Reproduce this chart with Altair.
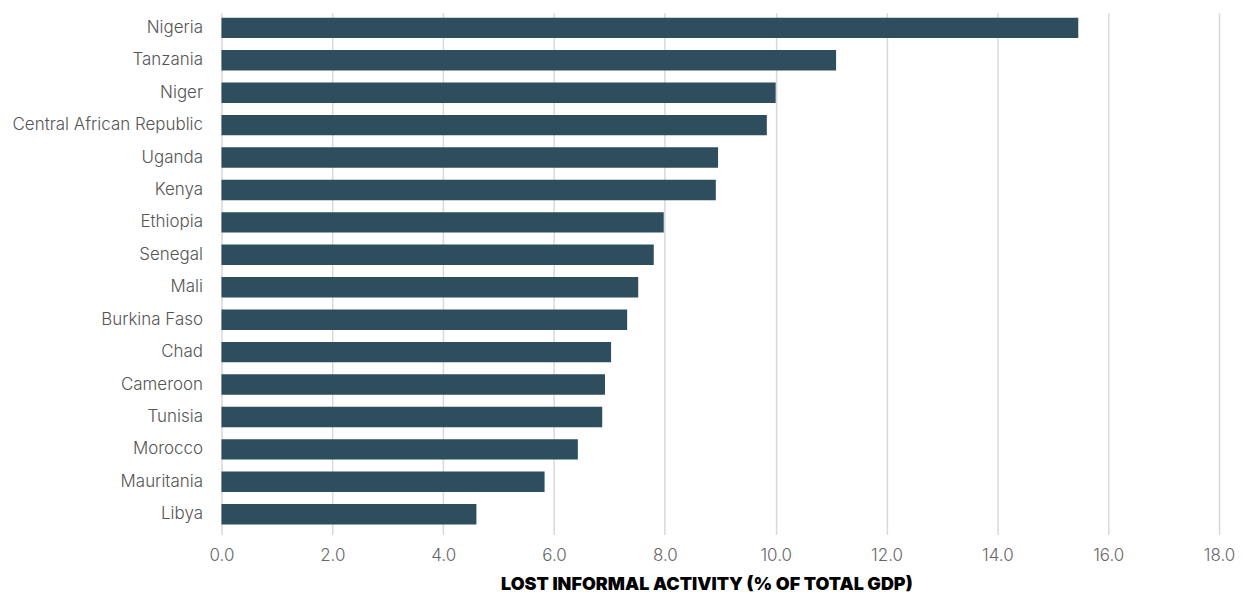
import altair as alt
import pandas as pd

countries = ["Nigeria", "Tanzania", "Niger", "Central African Republic", "Uganda", "Kenya",
             "Ethiopia", "Senegal", "Mali", "Burkina Faso", "Chad", "Cameroon", "Tunisia",
             "Morocco", "Mauritania", "Libya"]
values = [15.46, 11.09, 10.0, 9.84, 8.96, 8.92, 7.98, 7.8, 7.52, 7.32, 7.03, 6.92, 6.87,
          6.43, 5.83, 4.6]
x_ticks = [0, 2, 4, 6, 8, 10, 12, 14, 16, 18]

df = pd.DataFrame({"country": countries, "value": values})

chart = alt.Chart(df).mark_bar(color="#2f4e5d").encode(
    x=alt.X("value:Q",
            scale=alt.Scale(domain=[0, 18], nice=False),
            axis=alt.Axis(values=x_ticks, format=".1f",
                          title="LOST INFORMAL ACTIVITY (% OF TOTAL GDP)",
                          titleFont="Inter", titleFontSize=18, titleFontWeight=900,
                          titleColor="#000000", titleX=486, titleY=55,
                          titleBaseline="alphabetic",
                          labelFont="Inter", labelFontSize=17, labelColor="#666666",
                          labelFontWeight=300, labelPadding=13, labelFlush=False,
                          grid=True, gridColor="#d9d9d9", gridWidth=1.5,
                          domain=False, ticks=False)),
    y=alt.Y("country:N", sort=countries,
            scale=alt.Scale(paddingInner=0.37, paddingOuter=0.23, align=0.33),
            axis=alt.Axis(title=None, labelFont="Inter", labelFontSize=17,
                          labelColor="#555555", labelFontWeight=300,
                          labelPadding=19, domain=False, ticks=False, grid=False,
                          labelLimit=400)),
).properties(
    width=1000, height=523,
    background="white",
    autosize=alt.AutoSizeParams(type="none"),
    padding={"left": 214, "top": 4, "right": 20, "bottom": 60},
).configure_view(stroke=None, strokeWidth=0)

chart.save("out.html", embed_options={"renderer": "svg", "actions": False})
